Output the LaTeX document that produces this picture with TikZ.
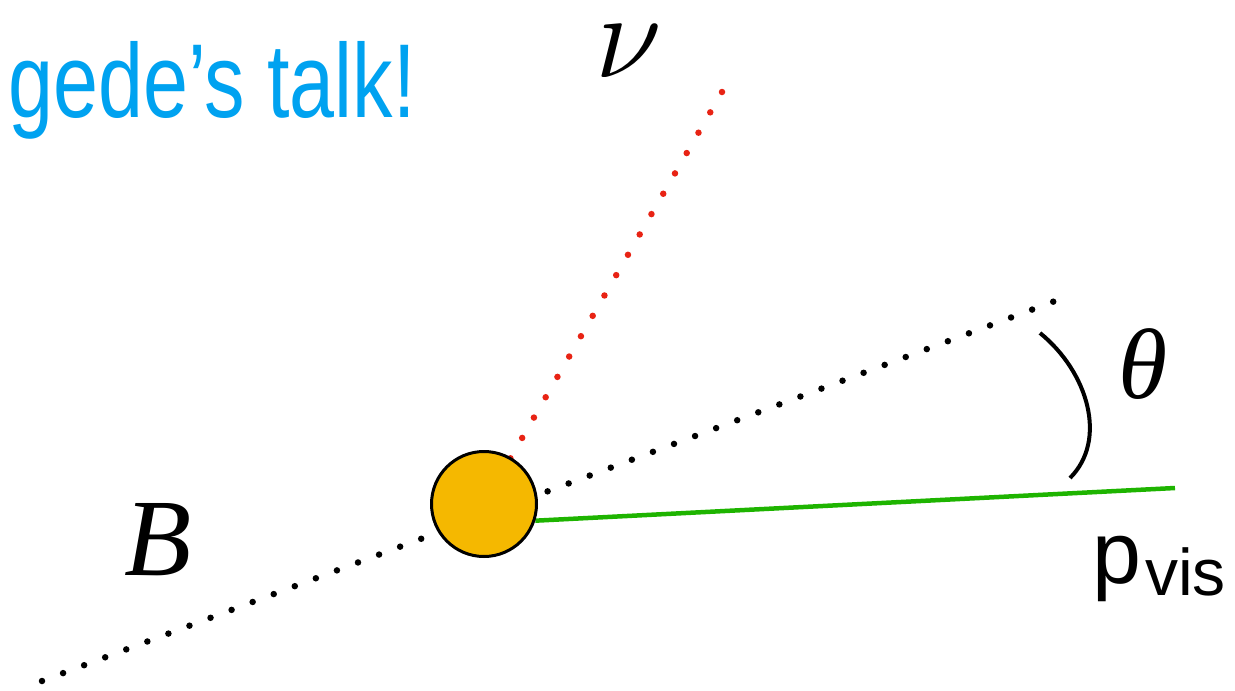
\RequirePackage{fix-cm}
\documentclass[tikz,border=0pt]{standalone}
\usepackage{fontspec}
\newfontfamily\talkfont{Liberation Sans}
\newfontfamily\labelfont{Liberation Serif}
\usepackage{tikz}
\usetikzlibrary{positioning, backgrounds}
\definecolor{VertexColor}{RGB}{245,184,0}
\definecolor{NuColor}{RGB}{232,35,20}
\definecolor{VisColor}{RGB}{30,180,0}
\definecolor{TalkColor}{RGB}{0,162,240}
\tikzset{
    vertex/.style={
        circle,
        draw=black,
        line width=3pt,
        fill=VertexColor,
        minimum size=105pt,
        inner sep=0pt
    },
    bline/.style={draw=black, line width=6.5pt, line cap=round, dash pattern=on 0pt off 22.5pt},
    nuline/.style={draw=NuColor, line width=6.5pt, line cap=round, dash pattern=on 0pt off 23.5pt},
    visline/.style={draw=VisColor, line width=4.5pt},
    anglearc/.style={draw=black, line width=4pt},
    symlabel/.style={inner sep=0pt, font=\labelfont\itshape}
}
\begin{document}
\begin{tikzpicture}[x=1pt, y=-1pt]
\useasboundingbox (0,0) rectangle (1235,691);

% Talk
\node[anchor=base west, inner sep=0pt, text=TalkColor] (n_talk) at (8,117)
    {\talkfont\fontsize{105}{105}\selectfont\scalebox{0.77}[1]{gede’s talk!}};

% Vertex
\node[vertex] (n_vertex) at (484,504) {};

% End points
\coordinate (b_in) at (42,681);
\coordinate (b_out) at (1063,298);
\coordinate (nu_end) at (722,92);
\coordinate (vis_end) at (1175,488);

% Lines
\begin{scope}[on background layer]
\draw[bline] (b_in) -- (b_out);
\draw[nuline] (nu_end) -- (n_vertex.center);
\draw[visline] (n_vertex.-18) -- (vis_end);
\end{scope}

% Angle
\coordinate (arc_top) at (1040,333);
\coordinate (arc_bot) at (1070,478);
\draw[anglearc] (arc_top) .. controls (1088,372) and (1108,440) .. (arc_bot);

% Labels
\node[inner sep=0pt, font=\fontsize{122}{122}\selectfont] (n_nu) at (629,51) {$\nu$};
\node[symlabel, font=\labelfont\itshape\fontsize{110}{110}\selectfont] (n_b) at (158,540) {B};
\node[symlabel, font=\labelfont\itshape\fontsize{100}{100}\selectfont] (n_theta) at (1143,364) {θ};
\node[anchor=base west, inner sep=0pt] (n_vis) at (1092,583)
    {\talkfont\fontsize{88}{88}\selectfont p\kern4pt\raisebox{-12pt}{\fontsize{66}{66}\selectfont vis}};

\end{tikzpicture}
\end{document}
